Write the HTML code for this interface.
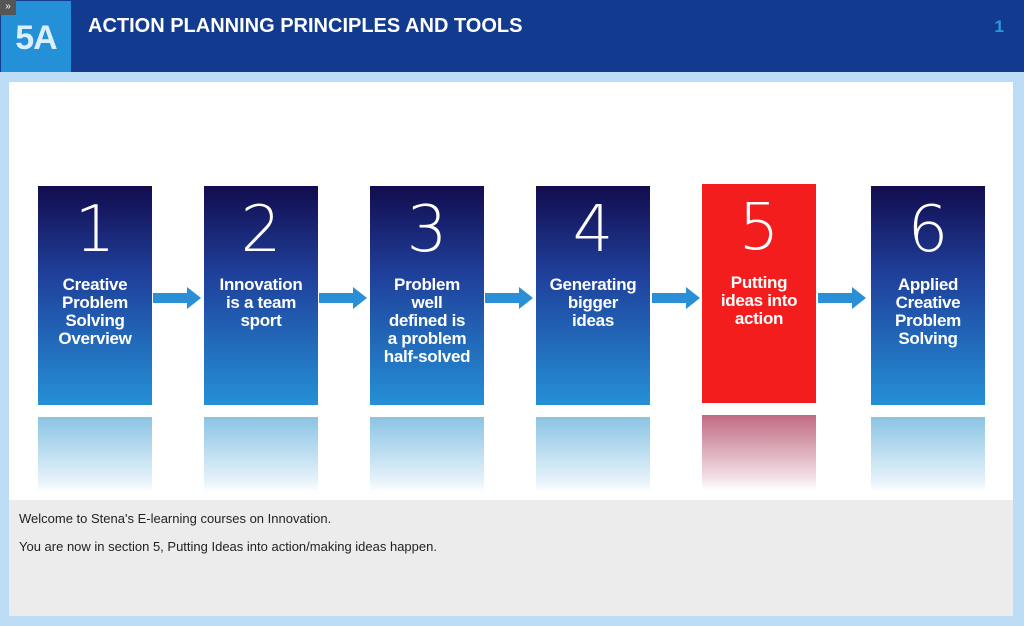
<!DOCTYPE html>
<html><head><meta charset="utf-8"><style>
*{margin:0;padding:0;box-sizing:border-box}
body{width:1024px;height:626px;background:#bcdcf6;position:relative;overflow:hidden;font-family:"Liberation Sans",Arial,sans-serif}
.hdr{position:absolute;left:0;top:0;width:1024px;height:72px;background:#123b8f}
.badge{position:absolute;left:1px;top:1px;width:70px;height:71px;background:#2390d8;color:#dcefff;font-weight:bold;font-size:34px;line-height:74px;text-align:center;letter-spacing:-1px}
.menu{position:absolute;left:0;top:0;width:16px;height:15px;background:#555;color:#fff;font-size:10px;line-height:14px;text-align:center}
.title{position:absolute;left:88px;top:15px;color:#fff;font-weight:bold;font-size:20px}
.pg{position:absolute;right:20px;top:17px;color:#2a9ae0;font-weight:bold;font-size:17px}
.main{position:absolute;left:9px;top:82px;width:1004px;height:418px;background:#fff}
.card{position:absolute;top:186px;width:114px;height:219px;background:linear-gradient(#120c4e,#1f3f9a 40%,#2590d6);color:#fff;text-align:center}
.card.red{top:184px;background:#f41d1d}
.num{font-size:64px;line-height:78px;margin-top:5px;font-family:"DejaVu Sans",sans-serif;font-weight:200}
.txt{font-weight:bold;font-size:17px;line-height:18px;margin-top:7px;letter-spacing:-0.3px}
.refl{position:absolute;top:417px;width:114px;height:75px;background:linear-gradient(#8ac4e4,#e6f2fa 85%,#fff)}
.refl.red{top:415px;background:linear-gradient(#c06a82,#f4e2e8 85%,#fff)}
.arrow{position:absolute;top:287px;width:48px;height:22px}
.foot{position:absolute;left:9px;top:500px;width:1004px;height:116px;background:#ececec;font-size:13px;color:#222}
.foot p{position:absolute;left:10px}
</style></head><body>
<div class="hdr">
<div class="badge">5A</div>
<div class="menu">»</div>
<div class="title">ACTION PLANNING PRINCIPLES AND TOOLS</div>
<div class="pg">1</div>
</div>
<div class="main"></div>

<div class="card" style="left:38px"><div class="num">1</div><div class="txt">Creative<br>Problem<br>Solving<br>Overview</div></div>
<div class="card" style="left:204px"><div class="num">2</div><div class="txt">Innovation<br>is a team<br>sport</div></div>
<div class="card" style="left:370px"><div class="num">3</div><div class="txt">Problem<br>well<br>defined is<br>a problem<br>half-solved</div></div>
<div class="card" style="left:536px"><div class="num">4</div><div class="txt">Generating<br>bigger<br>ideas</div></div>
<div class="card red" style="left:702px"><div class="num">5</div><div class="txt">Putting<br>ideas into<br>action</div></div>
<div class="card" style="left:871px"><div class="num">6</div><div class="txt">Applied<br>Creative<br>Problem<br>Solving</div></div>

<div class="refl" style="left:38px"></div>
<div class="refl" style="left:204px"></div>
<div class="refl" style="left:370px"></div>
<div class="refl" style="left:536px"></div>
<div class="refl red" style="left:702px"></div>
<div class="refl" style="left:871px"></div>

<svg class="arrow" style="left:153px" viewBox="0 0 48 22"><path d="M0 6H34V0L48 11L34 22V16H0Z" fill="#2a8fd6"/></svg>
<svg class="arrow" style="left:319px" viewBox="0 0 48 22"><path d="M0 6H34V0L48 11L34 22V16H0Z" fill="#2a8fd6"/></svg>
<svg class="arrow" style="left:485px" viewBox="0 0 48 22"><path d="M0 6H34V0L48 11L34 22V16H0Z" fill="#2a8fd6"/></svg>
<svg class="arrow" style="left:652px" viewBox="0 0 48 22"><path d="M0 6H34V0L48 11L34 22V16H0Z" fill="#2a8fd6"/></svg>
<svg class="arrow" style="left:818px" viewBox="0 0 48 22"><path d="M0 6H34V0L48 11L34 22V16H0Z" fill="#2a8fd6"/></svg>

<div class="foot">
<p style="top:11px">Welcome to Stena's E-learning courses on Innovation.</p>
<p style="top:39px">You are now in section 5, Putting Ideas into action/making ideas happen.</p>
</div>
</body></html>
